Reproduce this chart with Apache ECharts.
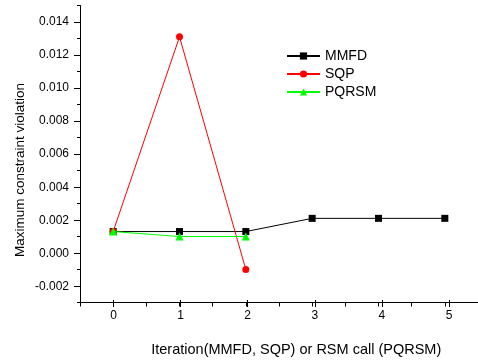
<!DOCTYPE html>
<html>
<head>
<meta charset="utf-8">
<script src="https://cdn.jsdelivr.net/npm/echarts@6/dist/echarts.min.js"></script>
<style>
  html, body { margin: 0; padding: 0; background: #fff; }
  #chart { width: 478px; height: 362px; }
</style>
</head>
<body>
<div id="chart"></div>
<script>
// iteration / RSM call index
const iterations = [0, 1, 2, 3, 4, 5];
const seriesNames = ["MMFD", "SQP", "PQRSM"];
// maximum constraint violation per iteration
const mmfd = [0.0013, 0.0013, 0.0013, 0.0021, 0.0021, 0.0021];
const sqp = [0.0013, 0.0131, -0.001];
const pqrsm = [0.0013, 0.001, 0.001];
const yTicks = [-0.002, 0.0, 0.002, 0.004, 0.006, 0.008, 0.01, 0.012, 0.014];
const xTicks = [0, 1, 2, 3, 4, 5];

const FONT = "Liberation Sans, Arial, sans-serif";
const pairs = (vals) => vals.map((v, i) => [iterations[i], v]);

const chart = echarts.init(document.getElementById("chart"), null, { renderer: "canvas" });

// grid 0 = plot + minor ticks, grid 1 = major y ticks/labels, grid 2 = major x ticks/labels
const option = {
  backgroundColor: "#fff",
  animation: false,
  textStyle: { fontFamily: FONT },
  grid: [
    { left: 80, right: -4.6, top: 5.5, bottom: 59.5 },
    { left: 80, right: -4.6, top: 22, bottom: 75.7 },
    { left: 113.5, right: 29, top: 5.5, bottom: 59.5 },
  ],
  legend: {
    orient: "vertical",
    left: 281,
    top: 44,
    itemWidth: 33,
    itemHeight: 9,
    itemGap: 4,
    data: seriesNames,
    textStyle: { fontSize: 14, color: "#000", fontFamily: FONT },
  },
  xAxis: [
    {
      gridIndex: 0, type: "value", min: -0.5, max: 5.5, interval: 0.5,
      axisLine: { onZero: false, lineStyle: { color: "#000", width: 1 } },
      axisTick: { length: 4, lineStyle: { color: "#000" } },
      axisLabel: { show: false },
      splitLine: { show: false },
    },
    { gridIndex: 1, type: "value", min: -0.5, max: 5.5, show: false },
    {
      gridIndex: 2, type: "value", min: xTicks[0], max: xTicks[xTicks.length - 1], interval: 1,
      axisLine: { show: false, onZero: false },
      axisTick: { length: 7, lineStyle: { color: "#000" } },
      axisLabel: { color: "#000", fontSize: 12, margin: 10, fontFamily: FONT },
      splitLine: { show: false },
      name: "Iteration(MMFD, SQP) or RSM call (PQRSM)",
      nameLocation: "middle",
      nameGap: 42,
      nameTextStyle: { fontSize: 14.5, color: "#000", fontFamily: FONT, padding: [0, 0, 0, 30] },
    },
  ],
  yAxis: [
    {
      gridIndex: 0, type: "value", min: -0.003, max: 0.015, interval: 0.001,
      axisLine: { show: true, onZero: false, lineStyle: { color: "#000", width: 1 } },
      axisTick: { show: true, length: 3, lineStyle: { color: "#000" } },
      axisLabel: { show: false },
      splitLine: { show: false },
      name: "Maximum constraint violation",
      nameLocation: "middle",
      nameGap: 53,
      nameTextStyle: { fontSize: 13.5, color: "#000", fontFamily: FONT, padding: [0, 32, 0, 0] },
    },
    {
      gridIndex: 1, type: "value", min: yTicks[0], max: yTicks[yTicks.length - 1], interval: 0.002,
      axisLine: { show: false, onZero: false },
      axisTick: { show: true, length: 6, lineStyle: { color: "#000" } },
      axisLabel: { color: "#000", fontSize: 12, margin: 11, fontFamily: FONT, formatter: (v) => v.toFixed(3) },
      splitLine: { show: false },
    },
    { gridIndex: 2, type: "value", min: -0.003, max: 0.015, show: false },
  ],
  series: [
    {
      name: "MMFD", type: "line", xAxisIndex: 0, yAxisIndex: 0,
      data: pairs(mmfd),
      symbol: "rect", symbolSize: 7,
      lineStyle: { color: "#000", width: 1 },
      itemStyle: { color: "#000" },
      z: 2,
    },
    {
      name: "SQP", type: "line", xAxisIndex: 0, yAxisIndex: 0,
      data: pairs(sqp),
      symbol: "circle", symbolSize: 7,
      lineStyle: { color: "#ff0000", width: 1 },
      itemStyle: { color: "#ff0000" },
      z: 3,
    },
    {
      name: "PQRSM", type: "line", xAxisIndex: 0, yAxisIndex: 0,
      data: pairs(pqrsm),
      symbol: "triangle", symbolSize: 8,
      lineStyle: { color: "#00ff00", width: 1 },
      itemStyle: { color: "#00ff00" },
      z: 4,
    },
  ],
};

chart.setOption(option);
</script>
</body>
</html>
